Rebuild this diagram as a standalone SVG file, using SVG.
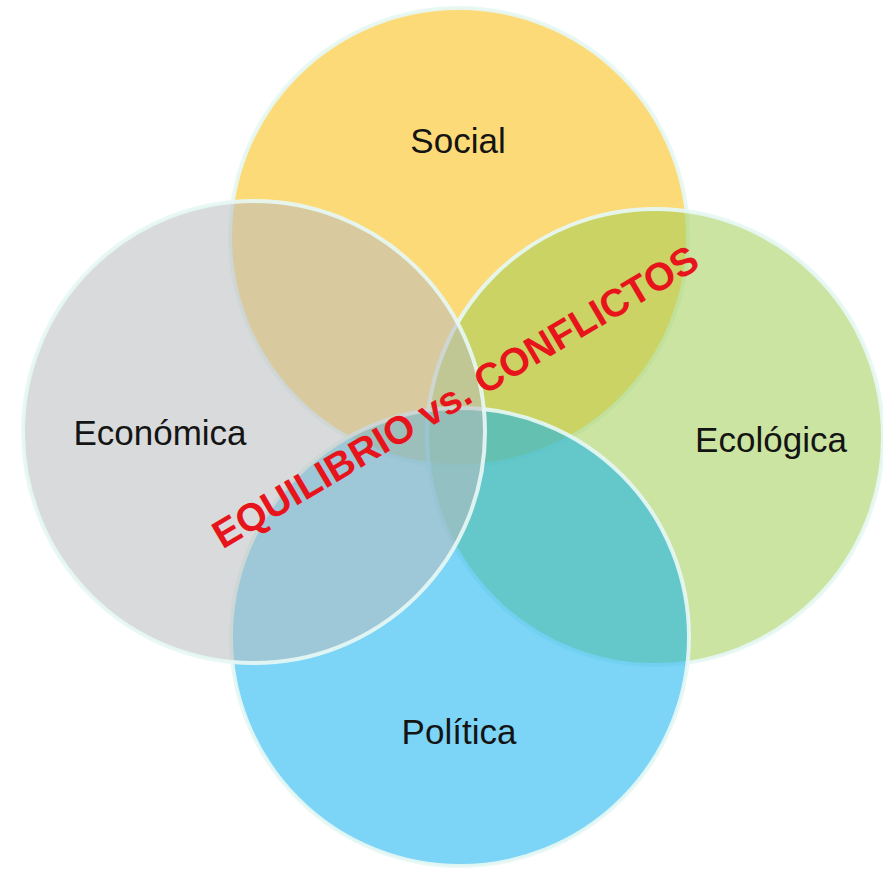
<svg xmlns="http://www.w3.org/2000/svg" width="883" height="870" viewBox="0 0 883 870">
  <style>
    .ring { stroke: #e6f7f4; stroke-width: 4; stroke-opacity: 0.92; }
    .tint { fill-opacity: 0.55; }
    .label { font-family: "Liberation Sans", Arial, sans-serif; font-size: 35px; fill: #141414; text-anchor: middle; }
    .banner { font-family: "Liberation Sans", Arial, sans-serif; font-size: 39px; font-weight: bold; fill: #e8141c; }
  </style>
  <rect width="883" height="870" fill="#ffffff"/>

  <!-- Venn circles, stacked bottom to top -->
  <g id="social">
    <circle class="ring" cx="459" cy="237" r="229" fill="#fdda78"/>
  </g>
  <g id="ecologica">
    <circle class="ring tint" cx="655" cy="437" r="228" fill="#a0ce54"/>
  </g>
  <g id="politica">
    <circle class="ring tint" cx="460" cy="637" r="229" fill="#11b1ef"/>
  </g>
  <g id="economica">
    <circle class="ring tint" cx="254" cy="432" r="231" fill="#babbbe"/>
  </g>

  <!-- circle labels -->
  <g id="labels">
    <text class="label" x="458" y="153">Social</text>
    <text class="label" x="160" y="445">Económica</text>
    <text class="label" x="771" y="452">Ecológica</text>
    <text class="label" x="459" y="744">Política</text>
  </g>

  <!-- diagonal banner across the centre -->
  <g id="banner">
    <text class="banner" transform="translate(222.5,549.4) rotate(-30.5)">EQUILIBRIO vs. CONFLICTOS</text>
  </g>
</svg>
